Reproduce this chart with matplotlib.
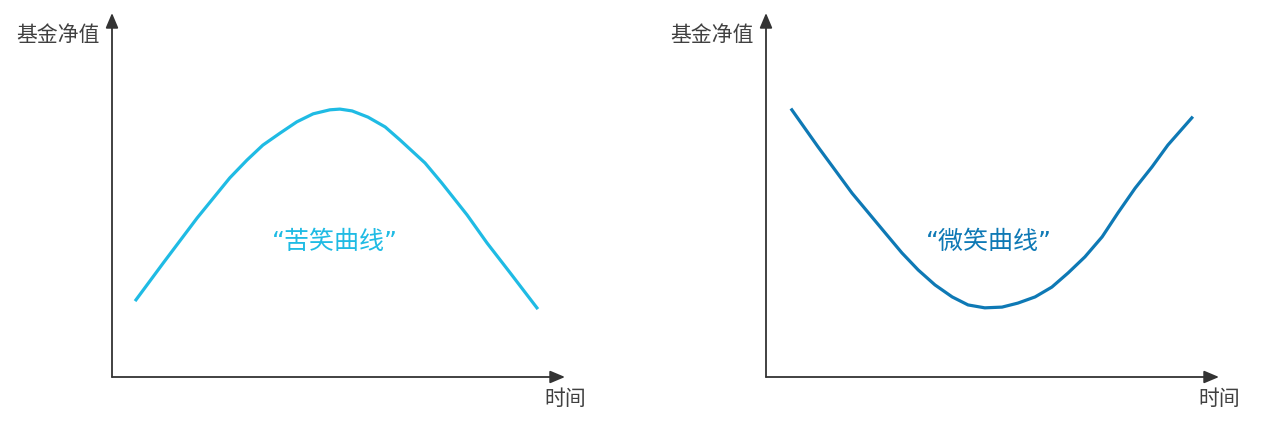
import matplotlib
matplotlib.use("Agg")
import matplotlib.pyplot as plt

plt.rcParams['font.family'] = ['Noto Sans CJK SC', 'DejaVu Sans']

# curve values (time 0-100, NAV 0-100)
bitter_t = [5.3, 11.3, 18.8, 26.0, 29.8, 33.3, 37.1, 40.8, 44.4, 48.1, 50.3, 53.0,
            56.5, 60.3, 63.6, 69.1, 72.8, 78.4, 82.8, 87.9, 93.8]
bitter_v = [21.2, 31.3, 43.7, 54.7, 59.6, 63.7, 67.0, 70.1, 72.3, 73.4, 73.6, 73.1,
            71.4, 68.7, 65.1, 58.8, 53.3, 44.5, 36.8, 28.6, 19.0]

smile_t = [5.7, 11.5, 19.0, 26.3, 30.0, 33.6, 37.3, 41.1, 44.6, 48.3, 52.1, 55.6,
           59.4, 63.1, 66.7, 70.4, 74.2, 77.7, 81.5, 85.2, 88.7, 94.0]
smile_v = [73.4, 63.2, 50.5, 39.6, 34.1, 29.4, 25.3, 22.0, 19.8, 19.0, 19.2, 20.3,
           22.0, 24.7, 28.6, 33.0, 38.5, 45.1, 51.9, 57.7, 63.7, 71.2]

y_label = '基金净值'
x_label = '时间'
bitter_name = '“苦笑曲线”'
smile_name = '“微笑曲线”'

light_blue = '#1fbbe4'
dark_blue = '#0e79b5'
axis_col = '#333333'

fig = plt.figure(figsize=(12.68, 4.23), dpi=100)

def draw_panel(left_px, t, v, color, name):
    ax = fig.add_axes([left_px / 1268, 46 / 423, 453 / 1268, 364 / 423])
    ax.set_xlim(0, 100)
    ax.set_ylim(0, 100)
    for s in ax.spines.values():
        s.set_visible(False)
    ax.set_xticks([])
    ax.set_yticks([])
    arrow = dict(arrowstyle='-|>,head_length=0.9,head_width=0.38', color=axis_col,
                 lw=1.3, shrinkA=0, shrinkB=0)
    ax.annotate('', xy=(1, 0), xytext=(0, 0), xycoords='axes fraction',
                arrowprops=arrow, annotation_clip=False)
    ax.annotate('', xy=(0, 1), xytext=(0, 0), xycoords='axes fraction',
                arrowprops=arrow, annotation_clip=False)
    ax.plot(t, v, color=color, lw=2.3, solid_joinstyle='round')
    ax.text(-0.026, 0.94, y_label, transform=ax.transAxes, ha='right', va='center',
            fontsize=15, color='#404040')
    ax.text(1.0, -0.06, x_label, transform=ax.transAxes, ha='center', va='center',
            fontsize=15, color='#404040')
    ax.text(49.3, 37.0, name, ha='center', va='center', fontsize=18, color=color,
            family=['DejaVu Sans', 'Noto Sans CJK SC'])
    return ax

draw_panel(112, bitter_t, bitter_v, light_blue, bitter_name)
draw_panel(766, smile_t, smile_v, dark_blue, smile_name)

fig.savefig('out.png', dpi=100, facecolor='white')
